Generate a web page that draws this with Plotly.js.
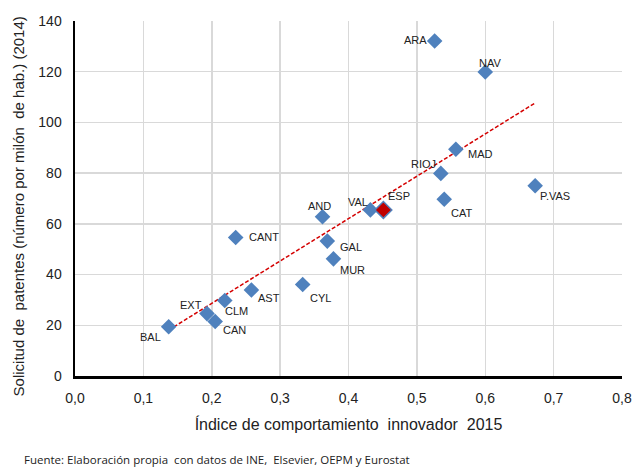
<!DOCTYPE html>
<html>
<head>
<meta charset="utf-8">
<script src="https://cdn.plot.ly/plotly-3.0.1.min.js"></script>
<style>
html,body{margin:0;padding:0;background:#fff;}
#chart{width:634px;height:468px;}
</style>
</head>
<body>
<div id="chart"></div>
<script>
// Regions (comunidades autónomas)
const regions = ["ARA","NAV","MAD","RIOJ","CAT","P.VAS","VAL","AND","GAL","MUR","CYL","CANT","AST","CLM","EXT","CAN","BAL"];
const innovIndex = [0.526,0.600,0.557,0.535,0.540,0.673,0.432,0.362,0.369,0.378,0.333,0.235,0.258,0.219,0.193,0.205,0.137];
const patents    = [132.1,119.9,89.4,79.9,69.7,75.0,65.5,62.8,53.2,46.2,36.1,54.6,33.9,29.8,24.6,21.5,19.4];
// Spain average
const espName = ["ESP"];
const espIndex = [0.451];
const espPatents = [65.5];

const xTicks = [0,0.1,0.2,0.3,0.4,0.5,0.6,0.7,0.8];
const yTicks = [0,20,40,60,80,100,120,140];

// Label placement (style): anchor, x shift px, y shift px (up positive)
const labelStyle = {
  "ARA":["right",-6,1], "NAV":["center",5,9], "MAD":["left",10,-5], "RIOJ":["right",-3,9],
  "CAT":["left",5,-14], "P.VAS":["left",3,-10], "VAL":["right",0,8], "AND":["center",-3,11],
  "GAL":["left",11,-6], "MUR":["left",5,-11], "CYL":["left",5,-14], "CANT":["left",11,1],
  "AST":["left",5,-8], "CLM":["left",-2,-11], "EXT":["right",-3,9], "CAN":["left",6,-9],
  "BAL":["right",-6,-10], "ESP":["left",3,14]
};

// Linear trend (least squares over the regions)
function linfit(xs, ys){
  const n = xs.length;
  const mx = xs.reduce((a,b)=>a+b,0)/n, my = ys.reduce((a,b)=>a+b,0)/n;
  let sxy=0, sxx=0;
  for(let i=0;i<n;i++){ sxy+=(xs[i]-mx)*(ys[i]-my); sxx+=(xs[i]-mx)**2; }
  const b = sxy/sxx; return {b:b, a:my-b*mx};
}
const fit = linfit(innovIndex, patents);
const xmin = Math.min(...innovIndex), xmax = Math.max(...innovIndex);
const trendX = [xmin, xmax];
const trendY = trendX.map(x => fit.a + fit.b*x);

const labelFont = {family:"Liberation Sans, Arial, sans-serif", size:11, color:"#222"};

const traces = [
  {x: trendX, y: trendY, mode:"lines", type:"scatter",
   line:{color:"#d40000", width:1.5, dash:"4px,2px"}, hoverinfo:"skip"},
  {x: innovIndex, y: patents, mode:"markers", type:"scatter",
   marker:{symbol:"diamond", size:12, color:"#4f81bd", line:{width:0}}},
  {x: espIndex, y: espPatents, mode:"markers", type:"scatter",
   marker:{symbol:"diamond", size:13, color:"#c00000", line:{width:1.5, color:"#4f81bd"}}}
];

const annotations = [];
function addLabels(names, xs, ys){
  names.forEach((n,i)=>{
    const s = labelStyle[n];
    annotations.push({x:xs[i], y:ys[i], xref:"x", yref:"y", text:n, showarrow:false,
      xanchor:s[0], yanchor:"middle", xshift:s[1], yshift:s[2], font:labelFont});
  });
}
addLabels(regions, innovIndex, patents);
addLabels(espName, espIndex, espPatents);

const titleFont = {family:"Liberation Sans, Arial, sans-serif", size:15, color:"#222"};
annotations.push({text:"Solicitud de  patentes (número por milón  de hab.) (2014)",
  xref:"paper", yref:"paper", x:-0.104, y:0.478, xanchor:"center", yanchor:"middle",
  textangle:-90, showarrow:false, font:titleFont});
annotations.push({text:"Fuente: Elaboración propia  con datos de INE,  Elsevier, OEPM y Eurostat",
  xref:"paper", yref:"paper", x:-0.097, y:-0.236, xanchor:"left", yanchor:"middle",
  showarrow:false, font:{family:"Open Sans, Liberation Sans, sans-serif", size:11.5, color:"#222"}});

const tickFont = {family:"Liberation Sans, Arial, sans-serif", size:14, color:"#222"};

const layout = {
  width:634, height:468,
  margin:{l:75, r:12, t:21, b:92},
  paper_bgcolor:"#fff", plot_bgcolor:"#fff",
  showlegend:false,
  separators:",.",
  xaxis:{range:[0,0.8], tickvals:xTicks, tickformat:".1f", tickfont:tickFont,
    showgrid:true, gridcolor:"#d9d9d9", gridwidth:1.5, zeroline:false,
    showline:true, linecolor:"#000", linewidth:2.5, ticks:"outside", ticklen:8, tickcolor:"rgba(0,0,0,0)",
    title:{text:"Índice de comportamiento  innovador  2015", font:{family:"Liberation Sans, Arial, sans-serif", size:16, color:"#222"}, standoff:14}},
  yaxis:{range:[0,140], tickvals:yTicks, tickfont:tickFont,
    showgrid:true, gridcolor:"#d9d9d9", gridwidth:1.5, zeroline:false,
    showline:true, linecolor:"#000", linewidth:2.5, ticks:"outside", ticklen:8, tickcolor:"rgba(0,0,0,0)"},
  annotations: annotations
};

Plotly.newPlot("chart", traces, layout, {displayModeBar:false, staticPlot:true});
</script>
</body>
</html>
